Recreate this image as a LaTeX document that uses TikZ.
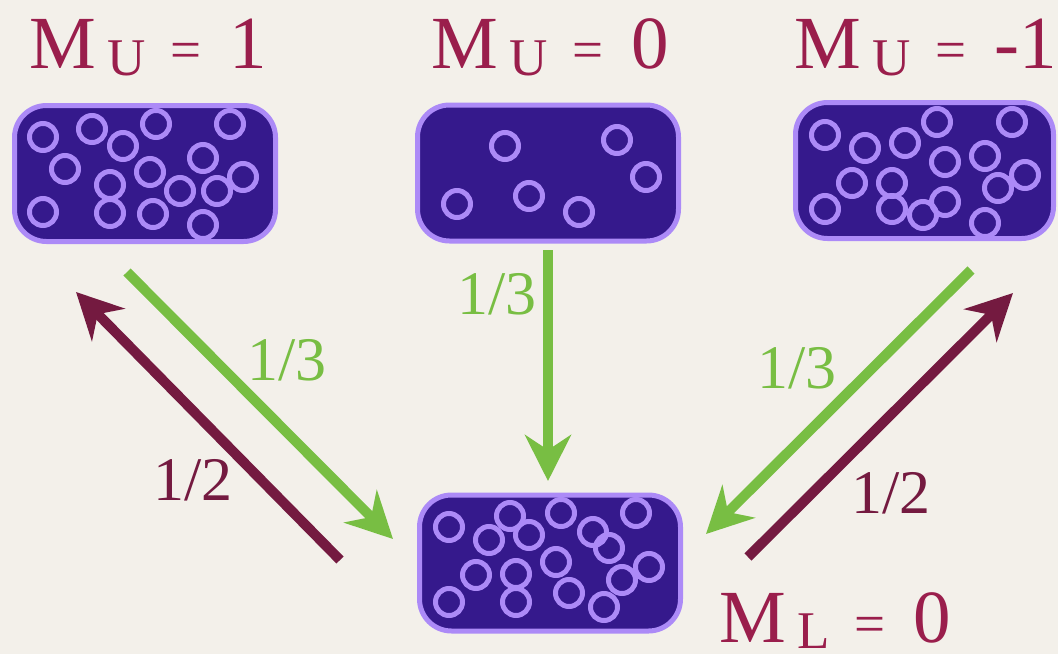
\documentclass[tikz,border=0pt]{standalone}
\usepackage{fontspec}
\setmainfont{Liberation Serif}
\usetikzlibrary{arrows.meta}
\definecolor{bg}{HTML}{F3F0EA}
\definecolor{boxfill}{HTML}{35198C}
\definecolor{boxline}{HTML}{AC8AF7}
\definecolor{lbl}{HTML}{9A1E4C}
\definecolor{darkarr}{HTML}{741A40}
\definecolor{grn}{HTML}{78BE43}
\newcommand\mlab[3]{\fontsize{75}{75}\selectfont M\hspace{12pt}\raisebox{#3}{\fontsize{53}{53}\selectfont #1}\hspace{24pt}{\fontsize{55}{55}\selectfont =}\hspace{28pt}#2}
\begin{document}
\begin{tikzpicture}[x=1pt,y=-1pt,
  box/.style={draw=boxline, fill=boxfill, line width=5pt, rounded corners=32pt,
    minimum width=261pt, minimum height=136pt, inner sep=0pt},
  dot/.style={draw=boxline, line width=5pt},
  tip/.style={-{Stealth[length=46pt,width=46pt,inset=15pt]}},
  garrow/.style={draw=grn, line width=10pt, tip},
  darrow/.style={draw=darkarr, line width=10pt, tip},
  mlabel/.style={text=lbl, anchor=base west, inner sep=0pt},
  glabel/.style={text=grn, anchor=base, inner sep=0pt, font=\fontsize{62}{62}\selectfont},
  dlabel/.style={text=darkarr, anchor=base, inner sep=0pt, font=\fontsize{62}{62}\selectfont}]
\fill[bg] (0,0) rectangle (1058,654);
\useasboundingbox (0,0) rectangle (1058,654);
% boxes
\node[box] (b1) at (145,173.5) {};
\node[box] (b2) at (548,173) {};
\node[box, minimum width=258pt] (b3) at (924.5,170.5) {};
\node[box] (b4) at (550,563) {};
% circles
\foreach \p in {(43,137),(92,129),(156,124),(230,124),(123,146),(65,169),(203,158),(150,172),(110,185),(180,191),(217,191),(243,177),(43,212),(110,213),(153,214),(203,225)}
  \draw[dot] \p circle[radius=13.5];
\foreach \p in {(505,146),(617,140),(646,177),(529,196),(457,204),(579,212)}
  \draw[dot] \p circle[radius=13.5];
\foreach \p in {(825,135),(937,122),(1012,122),(865,148),(905,143),(945,162),(985,156),(852,183),(892,183),(1025,175),(998,188),(945,202),(825,209),(892,209),(923,215),(985,223)}
  \draw[dot] \p circle[radius=13.5];
\foreach \p in {(449,527),(510,516),(561,513),(636,513),(489,540),(529,535),(593,532),(609,548),(556,562),(476,575),(516,574),(649,567),(622,580),(449,602),(516,602),(569,593),(604,607)}
  \draw[dot] \p circle[radius=13.5];
% labels
\node[mlabel] (l1) at (29,68) {\mlab{U}{1}{-7pt}};
\node[mlabel] (l2) at (431,68) {\mlab{U}{0}{-7pt}};
\node[mlabel] (l3) at (794,68) {\mlab{U}{-1}{-7pt}};
\node[mlabel] (l4) at (719,642) {\mlab{L}{0}{-6pt}};
% arrow end points
\coordinate (g1s) at (127,272);
\coordinate (g1e) at (393,539);
\coordinate (d1s) at (340,560);
\coordinate (d1e) at (76,292);
\coordinate (g2s) at (548,250);
\coordinate (g2e) at (548,481);
\coordinate (g3s) at (971,270);
\coordinate (g3e) at (706,534);
\coordinate (d3s) at (748,557);
\coordinate (d3e) at (1013,293);
\draw[garrow] (g1s) -- (g1e);
\draw[darrow] (d1s) -- (d1e);
\draw[garrow] (g2s) -- (g2e);
\draw[garrow] (g3s) -- (g3e);
\draw[darrow] (d3s) -- (d3e);
% fractions
\node[glabel] (f1) at (497,314) {1/3};
\node[glabel] (f2) at (287,380) {1/3};
\node[dlabel] (f3) at (193,500) {1/2};
\node[glabel] (f4) at (797,388) {1/3};
\node[dlabel] (f5) at (891,513) {1/2};
\end{tikzpicture}
\end{document}
